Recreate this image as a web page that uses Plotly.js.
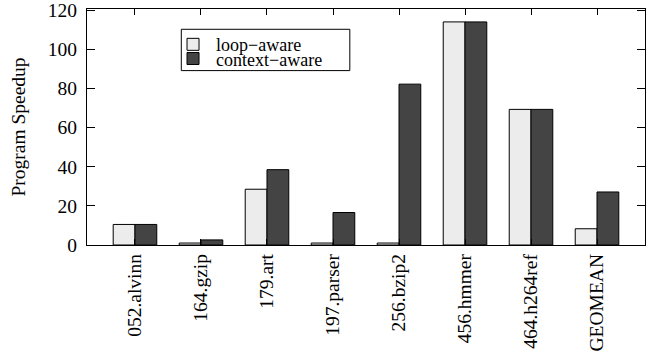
<!DOCTYPE html>
<html>
<head>
<meta charset="utf-8">
<script src="https://cdn.plot.ly/plotly-3.0.1.min.js"></script>
<style>html,body{margin:0;padding:0;background:#fff;}#chart{width:657px;height:356px;}</style>
</head>
<body>
<div id="chart"></div>
<script>
var categories = ["052.alvinn", "164.gzip", "179.art", "197.parser", "256.bzip2", "456.hmmer", "464.h264ref", "GEOMEAN"];
var seriesNames = ["loop\u2212aware", "context\u2212aware"];
var loopAware = [10.5, 1.0, 28.5, 1.0, 1.0, 114, 69.3, 8.3];
var contextAware = [10.5, 2.6, 38.5, 16.6, 82.2, 114, 69.3, 27.1];
var yTicks = [0, 20, 40, 60, 80, 100, 120];

var FONT = "'Liberation Serif', 'Times New Roman', serif";

var traces = [
  {type: "bar", name: seriesNames[0], x: categories, y: loopAware,
   marker: {color: "#ececec", line: {color: "#000", width: 1}}, legend: "legend"},
  {type: "bar", name: seriesNames[1], x: categories, y: contextAware,
   marker: {color: "#444444", line: {color: "#000", width: 1}}, legend: "legend2"}
];

var legendCommon = {
  font: {family: FONT, size: 18, color: "#000"},
  bgcolor: "rgba(0,0,0,0)", borderwidth: 0, itemwidth: 36,
  xanchor: "left", yanchor: "middle", xref: "paper", yref: "paper"
};

var layout = {
  width: 657, height: 356,
  margin: {l: 87, r: 12, t: 9, b: 111, pad: 0},
  paper_bgcolor: "#fff", plot_bgcolor: "#fff",
  font: {family: FONT, size: 19.5, color: "#000"},
  barmode: "group", bargap: 0.34, bargroupgap: 0,
  showlegend: true,
  legend: Object.assign({x: 0.1488, y: 0.849}, legendCommon),
  legend2: Object.assign({x: 0.1488, y: 0.789}, legendCommon),
  xaxis: {
    type: "category", range: [-0.727, 7.727], automargin: false,
    showline: true, linecolor: "#000", linewidth: 1.2, mirror: "ticks",
    ticks: "inside", ticklen: 6, tickcolor: "#000", tickwidth: 1,
    tickangle: -90, tickfont: {family: FONT, size: 19.5}, ticklabelstandoff: 0,
    showgrid: false, zeroline: false
  },
  yaxis: {
    range: [0, 120.6], tickmode: "array", tickvals: yTicks, automargin: false,
    ticklabeloverflow: "allow",
    showline: true, linecolor: "#000", linewidth: 1.2, mirror: "ticks",
    ticks: "inside", ticklen: 8, tickcolor: "#000", tickwidth: 1,
    tickfont: {family: FONT, size: 19.5}, ticklabelstandoff: 5,
    showgrid: false, zeroline: false,
    title: {text: "Program Speedup", font: {family: FONT, size: 19.5}, standoff: 16}
  },
  shapes: [
    {type: "rect", xref: "paper", yref: "paper", x0: 0.169, x1: 0.471, y0: 0.739, y1: 0.914,
     line: {color: "#000", width: 1}, fillcolor: "rgba(0,0,0,0)", layer: "above"}
  ]
};

Plotly.newPlot("chart", traces, layout, {displayModeBar: false, staticPlot: true});
</script>
</body>
</html>
